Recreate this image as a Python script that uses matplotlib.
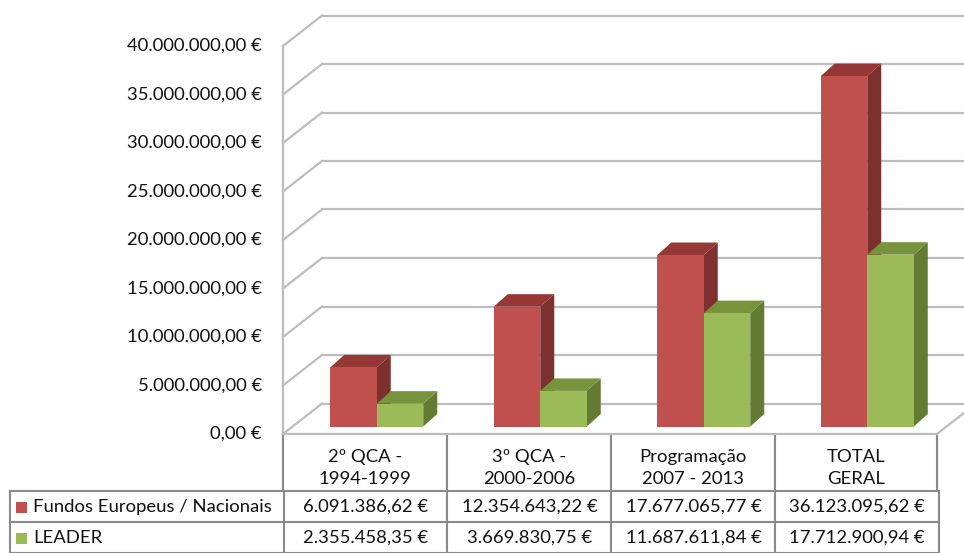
import matplotlib.pyplot as plt
from matplotlib.patches import Polygon, Rectangle
from matplotlib.lines import Line2D

categories = ['2º QCA -\n1994-1999', '3º QCA -\n2000-2006',
              'Programação\n2007 - 2013', 'TOTAL\nGERAL']
series_names = ['Fundos Europeus / Nacionais', 'LEADER']
fundos = [6091386.62, 12354643.22, 17677065.77, 36123095.62]
leader = [2355458.35, 3669830.75, 11687611.84, 17712900.94]
yticks = [0, 5e6, 10e6, 15e6, 20e6, 25e6, 30e6, 35e6, 40e6]

plt.rcParams['font.family'] = ['Lato', 'DejaVu Sans']
FS = 13.3

W, H = 964, 553
# colours: front, top, side
RED = ('#C0504D', '#953735', '#7E302E')
GREEN = ('#9BBB59', '#77933C', '#637B32')
GRID = '#BDBDBD'
TABLE = '#8A8A8A'
TXT = '#111111'


def eur(v):
    s = f'{v:,.2f}'
    return s.replace(',', 'X').replace('.', ',').replace('X', '.') + ' €'


fig = plt.figure(figsize=(W / 100, H / 100), dpi=100)

# plot area in pixel layout: front-left at x=283, front-right at 937,
# floor at y=434, 40M at y=46
left, right, y0px, ytop = 283, 937, 434, 46
ax = fig.add_axes([left / W, (H - y0px) / H, (right - left) / W, (y0px - ytop) / H])
ax.set_xlim(-0.5, 3.5)
ax.set_ylim(0, 40e6)
ax.axis('off')

ux = (right - left) / 4.0          # px per category
uy = (y0px - ytop) / 40e6          # px per euro
# wall depth
DX, DY = 39 / ux, 30.5 / uy
# bar placement inside depth
BX0, BY0 = 12 / ux, 7.5 / uy
BDX, BDY = 14 / ux, 12.5 / uy
bw = 46.5 / ux

# walls: back gridlines, side diagonals
for t in yticks:
    ax.add_line(Line2D([-0.5, -0.5 + DX], [t, t + DY], color=GRID, lw=1.6, clip_on=False, zorder=1))
    ax.add_line(Line2D([-0.5 + DX, 3.5 + 2 * DX], [t + DY, t + DY], color=GRID, lw=1.6,
                       clip_on=False, zorder=1))
ax.add_line(Line2D([-0.5, -0.5], [0, 40e6], color=GRID, lw=1.6, clip_on=False, zorder=1))
ax.add_line(Line2D([3.5, 3.5 + DX], [0, DY], color=GRID, lw=1.6, clip_on=False, zorder=1))

for t in yticks:
    ax.text(-0.5 - 21 / ux, t, eur(t), ha='right', va='center', fontsize=FS, color=TXT)


def bar3d(x0, v, cols, z):
    x1 = x0 + bw
    b = BY0
    front = Rectangle((x0, b), bw, v, facecolor=cols[0], edgecolor='none', zorder=z)
    top = Polygon([(x0, b + v), (x1, b + v), (x1 + BDX, b + v + BDY), (x0 + BDX, b + v + BDY)],
                  closed=True, facecolor=cols[1], edgecolor='none', zorder=z)
    side = Polygon([(x1, b), (x1, b + v), (x1 + BDX, b + v + BDY), (x1 + BDX, b + BDY)],
                   closed=True, facecolor=cols[2], edgecolor='none', zorder=z)
    for p in (side, top, front):
        p.set_clip_on(False)
        ax.add_patch(p)


for i in range(len(categories)):
    c = i + BX0
    bar3d(c - bw, fundos[i], RED, 3 + 2 * i)
    bar3d(c, leader[i], GREEN, 4 + 2 * i)

# data table, in pixel coordinates
tb = fig.add_axes([0, 0, 1, 1])
tb.set_xlim(0, W)
tb.set_ylim(H, 0)
tb.axis('off')
tb.patch.set_alpha(0)

colx = [283, 447, 611, 775, 937]
for x in colx:
    tb.plot([x, x], [434, 491], color=TABLE, lw=1.5)
tb.plot([283, 937], [434, 434], color=GRID, lw=1.6)
for y in (491, 522, 552.5):
    tb.plot([10, 939], [y, y], color=TABLE, lw=1.5)
for x in [10, 284, 447, 611, 775, 939]:
    tb.plot([x, x], [491, 553], color=TABLE, lw=1.5)

for i, lab in enumerate(categories):
    cx = (colx[i] + colx[i + 1]) / 2
    l1, l2 = lab.split('\n')
    tb.text(cx, 457, l1, ha='center', va='center', fontsize=FS, color=TXT)
    tb.text(cx, 479, l2, ha='center', va='center', fontsize=FS, color=TXT)

rows = [fundos, leader]
for r, (name, vals, cols) in enumerate(zip(series_names, rows, (RED, GREEN))):
    yc = 507 + r * 31
    tb.add_patch(Rectangle((16, yc - 5.5), 11, 11, facecolor=cols[0], edgecolor='none'))
    tb.text(33, yc, name, ha='left', va='center', fontsize=FS, color=TXT)
    for i, v in enumerate(vals):
        cx = (colx[i] + colx[i + 1]) / 2 + 1
        tb.text(cx, yc, eur(v), ha='center', va='center', fontsize=FS, color=TXT)

fig.savefig('out.png', dpi=100)
